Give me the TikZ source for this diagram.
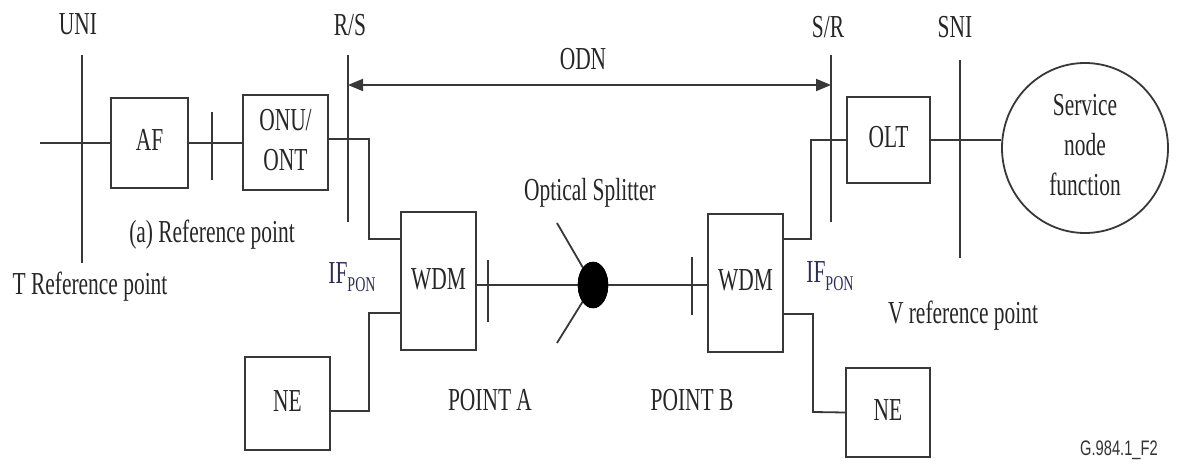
\documentclass[tikz,border=0pt]{standalone}
\usepackage{fontspec}
\setmainfont{Liberation Serif}
\newfontfamily\sansf{Liberation Sans}
\usetikzlibrary{arrows.meta,shapes.geometric}
\newcommand{\tx}[1]{\scalebox{0.67}[1]{\begin{tabular}{@{}c@{}}#1\end{tabular}}}
\begin{document}
\begin{tikzpicture}[x=1pt,y=-1pt,
  ln/.style={line width=1.8pt, draw=black!78},
  box/.style={ln, rectangle, inner sep=0pt, font=\fontsize{32}{40}\selectfont, text=black!85},
  lbl/.style={inner sep=0pt, font=\fontsize{32}{40}\selectfont, text=black!85},
  tip/.style={Triangle[length=15pt,width=12pt]}
]
\useasboundingbox[fill=white] (0,0) rectangle (1178,465);

% boxes
\node[box, minimum width=77pt, minimum height=90pt] (af) at (149.5,143) {\tx{AF}};
\node[box, minimum width=85pt, minimum height=95pt] (onu) at (285.5,142.5) {\tx{ONU/\\ONT}};
\node[box, minimum width=83pt, minimum height=86pt] (olt) at (888.5,140) {\tx{OLT}};
\node[box, minimum width=75pt, minimum height=138pt] (wdmL) at (438.5,281) {\tx{WDM}};
\node[box, minimum width=75pt, minimum height=138pt] (wdmR) at (745.5,283) {\tx{WDM}};
\node[box, minimum width=85pt, minimum height=93pt] (neL) at (287.5,403.5) {\tx{NE}};
\node[box, minimum width=84pt, minimum height=89pt] (neR) at (888,412.5) {\tx{NE}};
\node[box, ellipse, minimum width=166pt, minimum height=170pt] (snf) at (1085,148) {\tx{Service\\node\\function}};

% reference lines
\coordinate (uniT) at (82,55);   \coordinate (uniB) at (82,263);
\coordinate (rsT) at (348,55);   \coordinate (rsB) at (348,222);
\coordinate (srT) at (831,55);   \coordinate (srB) at (831,222);
\coordinate (sniT) at (960,60);  \coordinate (sniB) at (960,258);
\draw[ln] (uniT) -- (uniB);
\draw[ln] (rsT) -- (rsB);
\draw[ln] (srT) -- (srB);
\draw[ln] (sniT) -- (sniB);

% ODN arrow
\coordinate (odnL) at (348,85); \coordinate (odnR) at (831,85);
\draw[ln, {Triangle[length=15pt,width=12pt]}-{Triangle[length=15pt,width=12pt]}] (odnL) -- (odnR);

% left chain
\coordinate (lstart) at (40,143);
\draw[ln] (lstart) -- (af.west);
\draw[ln] (af.east) -- (af.east -| onu.west);
\coordinate (tk1T) at (212,112); \coordinate (tk1B) at (212,180);
\draw[ln] (tk1T) -- (tk1B);

\coordinate (c1) at (369,139);
\draw[ln] (onu.east |- c1) -- (c1) |- (wdmL.west |- 0,239);
\coordinate (c2) at (369,411);
\draw[ln] (wdmL.west |- 0,313) -| (c2) -- (neL.east |- c2);

% splitter
\node[ellipse, fill=black, draw=black, minimum width=30pt, minimum height=46pt, inner sep=0pt] (spl) at (593,285) {};
\coordinate (sbU) at (557,223); \coordinate (sbD) at (557,343);
\draw[ln] (sbU) -- (spl.center);
\draw[ln] (sbD) -- (spl.center);
\draw[ln] (wdmL.east |- spl) -- (spl);
\draw[ln] (spl) -- (wdmR.west |- spl);
\node[ellipse, fill=black, draw=black, minimum width=30pt, minimum height=46pt, inner sep=0pt] at (spl) {};
\coordinate (tk2T) at (488,260); \coordinate (tk2B) at (488,322);
\draw[ln] (tk2T) -- (tk2B);
\coordinate (tk3T) at (692,257); \coordinate (tk3B) at (692,315);
\draw[ln] (tk3T) -- (tk3B);

% right chain
\coordinate (c3) at (811,140);
\draw[ln] (wdmR.east |- 0,239) -| (c3) -- (olt.west);
\coordinate (c4) at (813,412);
\draw[ln] (wdmR.east |- 0,314) -| (c4) -- (neR.west);
\draw[ln] (olt.east) -- (olt.east -| snf.west);

% labels
\node[lbl] (uni) at (78,27) {\tx{UNI}};
\node[lbl] (rs) at (350,28) {\tx{R/S}};
\node[lbl] (odn) at (583,62) {\tx{ODN}};
\node[lbl] (sr) at (828,30) {\tx{S/R}};
\node[lbl] (sni) at (955,30) {\tx{SNI}};
\node[lbl] (aref) at (212,235) {\tx{(a) Reference point}};
\node[lbl] (tref) at (90,287) {\tx{T Reference point}};
\node[lbl, text={rgb,255:red,45;green,45;blue,90}] (ifL) at (352,275) {\tx{IF\raisebox{-0.28em}{\fontsize{21}{21}\selectfont PON}}};
\node[lbl, text={rgb,255:red,45;green,45;blue,90}] (ifR) at (830,274) {\tx{IF\raisebox{-0.28em}{\fontsize{21}{21}\selectfont PON}}};
\node[lbl] (ospl) at (590,193) {\tx{Optical Splitter}};
\node[lbl] (pa) at (490,402) {\tx{POINT A}};
\node[lbl] (pb) at (692,402) {\tx{POINT B}};
\node[lbl] (vref) at (963,315) {\tx{V reference point}};
\node[inner sep=0pt, font=\sansf\fontsize{21}{21}\selectfont, text=black!80] (fig) at (1119,450) {\scalebox{0.7}[1]{G.984.1\_F2}};
\end{tikzpicture}
\end{document}
